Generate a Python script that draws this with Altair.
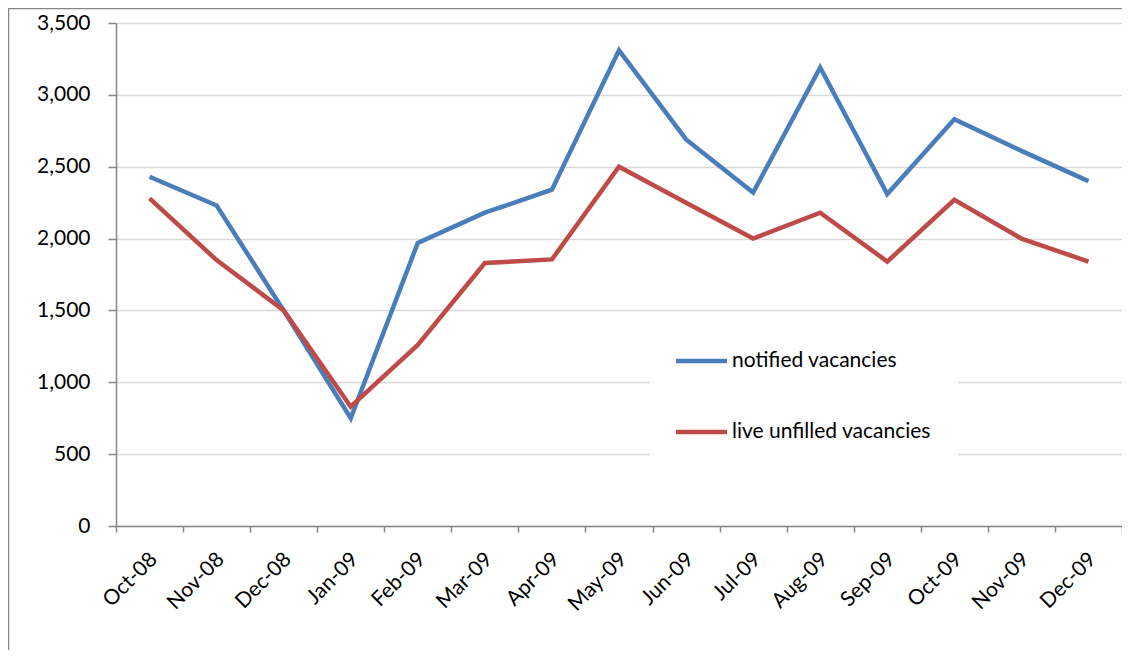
import altair as alt
import pandas as pd

months = ["Oct-08", "Nov-08", "Dec-08", "Jan-09", "Feb-09", "Mar-09", "Apr-09", "May-09",
          "Jun-09", "Jul-09", "Aug-09", "Sep-09", "Oct-09", "Nov-09", "Dec-09"]
notified = [2430, 2230, 1500, 750, 1970, 2180, 2340, 3310, 2690, 2320, 3190, 2310, 2830, 2610, 2400]
live = [2280, 1850, 1500, 830, 1260, 1830, 1855, 2500, 2250, 2000, 2180, 1840, 2270, 2000, 1840]
series_names = ["notified vacancies", "live unfilled vacancies"]
series_colors = ["#4a7ebb", "#be4b48"]
y_ticks = [0, 500, 1000, 1500, 2000, 2500, 3000, 3500]

rows = []
for i, m in enumerate(months):
    rows.append({"month": m, "series": series_names[0], "value": notified[i]})
    rows.append({"month": m, "series": series_names[1], "value": live[i]})
df = pd.DataFrame(rows)

FONT = "Lato"
FS = 21
W, H = 1006, 503

x_enc = alt.X("month:N", sort=months, title=None,
              scale=alt.Scale(type="band", paddingInner=0, paddingOuter=0),
              axis=alt.Axis(labelAngle=-45, labelAlign="right", labelBaseline="middle",
                            tickBand="extent", tickSize=6, labelPadding=24, labelOffset=4,
                            domainColor="#868686", tickColor="#868686", domainWidth=1.5,
                            tickWidth=1.5, labelFontSize=FS, labelFont=FONT,
                            labelColor="#000000", grid=False))
y_enc = alt.Y("value:Q", title=None,
              scale=alt.Scale(domain=[0, 3500], nice=False),
              axis=alt.Axis(values=y_ticks, format=",d", tickSize=8, labelPadding=18,
                            domainColor="#868686", tickColor="#868686", domainWidth=1.5,
                            tickWidth=1.5, gridColor="#d9d9d9", gridWidth=1.5,
                            labelFontSize=FS, labelFont=FONT, labelColor="#000000"))

lines = alt.Chart(df).mark_line(strokeWidth=4.5, strokeJoin="miter").encode(
    x=x_enc, y=y_enc,
    color=alt.Color("series:N", sort=series_names,
                    scale=alt.Scale(domain=series_names, range=series_colors), legend=None),
    detail="series:N",
)

one = pd.DataFrame({"a": [0]})
# legend box (white, hides gridlines)
leg_box = alt.Chart(one).mark_rect(color="white").encode(
    x=alt.value(534), x2=alt.value(842), y=alt.value(310), y2=alt.value(437))

leg_df = pd.DataFrame({"series": series_names, "ly": [338, 409]})
leg_lines = alt.Chart(leg_df).mark_rule(strokeWidth=4.5).encode(
    x=alt.value(560), x2=alt.value(611), y=alt.Y("ly:Q", scale=None),
    color=alt.Color("series:N", scale=alt.Scale(domain=series_names, range=series_colors), legend=None))
leg_text = alt.Chart(leg_df).mark_text(align="left", baseline="middle", font=FONT, fontSize=FS,
                                       color="#000000").encode(
    x=alt.value(616), y=alt.Y("ly:Q", scale=None), text="series:N")

frame_left = alt.Chart(one).mark_rule(color="#868686", strokeWidth=1.5).encode(
    x=alt.value(-107.5), y=alt.value(-15), y2=alt.value(700))
frame_top = alt.Chart(one).mark_rule(color="#868686", strokeWidth=1.5).encode(
    x=alt.value(-108), x2=alt.value(1100), y=alt.value(-14.5))

chart = alt.layer(frame_left, frame_top, lines, leg_box, leg_lines, leg_text).properties(
    width=W, height=H,
    autosize=alt.AutoSizeParams(type="none"),
    padding={"left": 108, "top": 15, "right": 0, "bottom": 124},
).configure(background="white", view=alt.ViewConfig(stroke=None))

chart.save("out.html", embed_options={"renderer": "svg", "actions": False})
